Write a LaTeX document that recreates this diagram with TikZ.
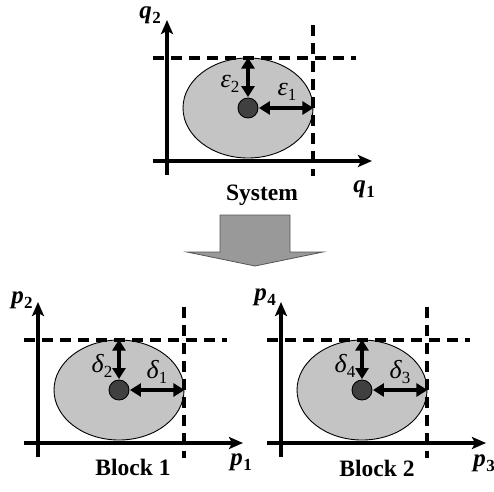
\documentclass[tikz,border=0pt]{standalone}
\usepackage{fontspec}
\setmainfont{Liberation Serif}
\usetikzlibrary{arrows.meta,shapes.geometric}
\newcommand\axl[2]{{\fontsize{25}{25}\selectfont\bfseries\itshape #1\kern0.5pt\raisebox{-5pt}{\fontsize{17}{17}\selectfont\upshape #2}}}
\newcommand\grl[2]{{\fontsize{26}{26}\selectfont\itshape #1\raisebox{-5pt}{\fontsize{17}{17}\selectfont\upshape #2}}}
\newcommand\ttl[1]{{\fontsize{23.5}{23.5}\selectfont\bfseries #1}}
\definecolor{ellgray}{HTML}{C4C4C4}
\definecolor{dotgray}{HTML}{404040}
\definecolor{arrgray}{HTML}{999999}
\definecolor{arredge}{HTML}{555555}
\tikzset{
  axis/.style={line width=3.5pt,-{Stealth[length=14pt,width=12pt,inset=3pt]}},
  dashline/.style={line width=3.5pt,dash pattern=on 11pt off 7pt},
  region/.style={ellipse,draw=black,line width=0.9pt,fill=ellgray,minimum width=130pt,minimum height=100pt,inner sep=0pt},
  center dot/.style={circle,draw=black,line width=0.9pt,fill=dotgray,minimum size=20pt,inner sep=0pt},
  dbl/.style={line width=3.5pt,{Triangle[length=11pt,width=13pt]}-{Triangle[length=11pt,width=13pt]},shorten <=0.5pt},
  lab/.style={inner sep=0pt,anchor=center},
}
\newcommand\drawpanel[1]{%
  \node[region] (ell#1) at (119,390) {};
  \draw[dashline] (24,340) coordinate (dhs#1) -- (227,340) coordinate (dhe#1);
  \draw[dashline] (184,307) coordinate (dvs#1) -- (184,458) coordinate (dve#1);
  \coordinate (ya#1) at (38,457);
  \coordinate (yb#1) at (38,302);
  \coordinate (xa#1) at (24,443);
  \coordinate (xb#1) at (243,443);
  \draw[axis] (ya#1) -- (yb#1);
  \draw[axis] (xa#1) -- (xb#1);
  \node[center dot] (dot#1) at (119,390) {};
  \draw[dbl] (dot#1.north) -- (ell#1.north);
  \draw[dbl] (dot#1.east) -- (ell#1.east);
}
\begin{document}
\begin{tikzpicture}[x=1pt,y=-1pt]
\useasboundingbox (0,0) rectangle (494,491);
% top panel: System
\begin{scope}[shift={(129,-282)}]
  \drawpanel{S}
\end{scope}
\node[lab] (q2) at (150,15) {\axl{q}{2}};
\node[lab] (q1) at (364,189) {\axl{q}{1}};
\node[lab] (e2) at (230,84) {\grl{ε}{2}};
\node[lab] (e1) at (287,92) {\grl{ε}{1}};
\node[lab] (sys) at (262,195) {\ttl{System}};
% block arrow
\draw[arredge,line width=0.8pt,fill=arrgray]
  (220,215) -- (290,215) -- (290,252) -- (323,252) -- (255,266) -- (187,252) -- (220,252) -- cycle;
% bottom left: Block 1
\drawpanel{A}
\node[lab] (p2) at (22,300) {\axl{p}{2}};
\node[lab] (p1) at (241,462) {\axl{p}{1}};
\node[lab] (d2) at (102,366) {\grl{δ}{2}};
\node[lab] (d1) at (157,372) {\grl{δ}{1}};
\node[lab] (b1) at (133,467) {\ttl{Block 1}};
% bottom right: Block 2
\begin{scope}[shift={(243,0)}]
  \drawpanel{B}
\end{scope}
\node[lab] (p4) at (265,297) {\axl{p}{4}};
\node[lab] (p3) at (484,463) {\axl{p}{3}};
\node[lab] (d4) at (345,366) {\grl{δ}{4}};
\node[lab] (d3) at (400,372) {\grl{δ}{3}};
\node[lab] (b2) at (377,468) {\ttl{Block 2}};
\end{tikzpicture}
\end{document}
